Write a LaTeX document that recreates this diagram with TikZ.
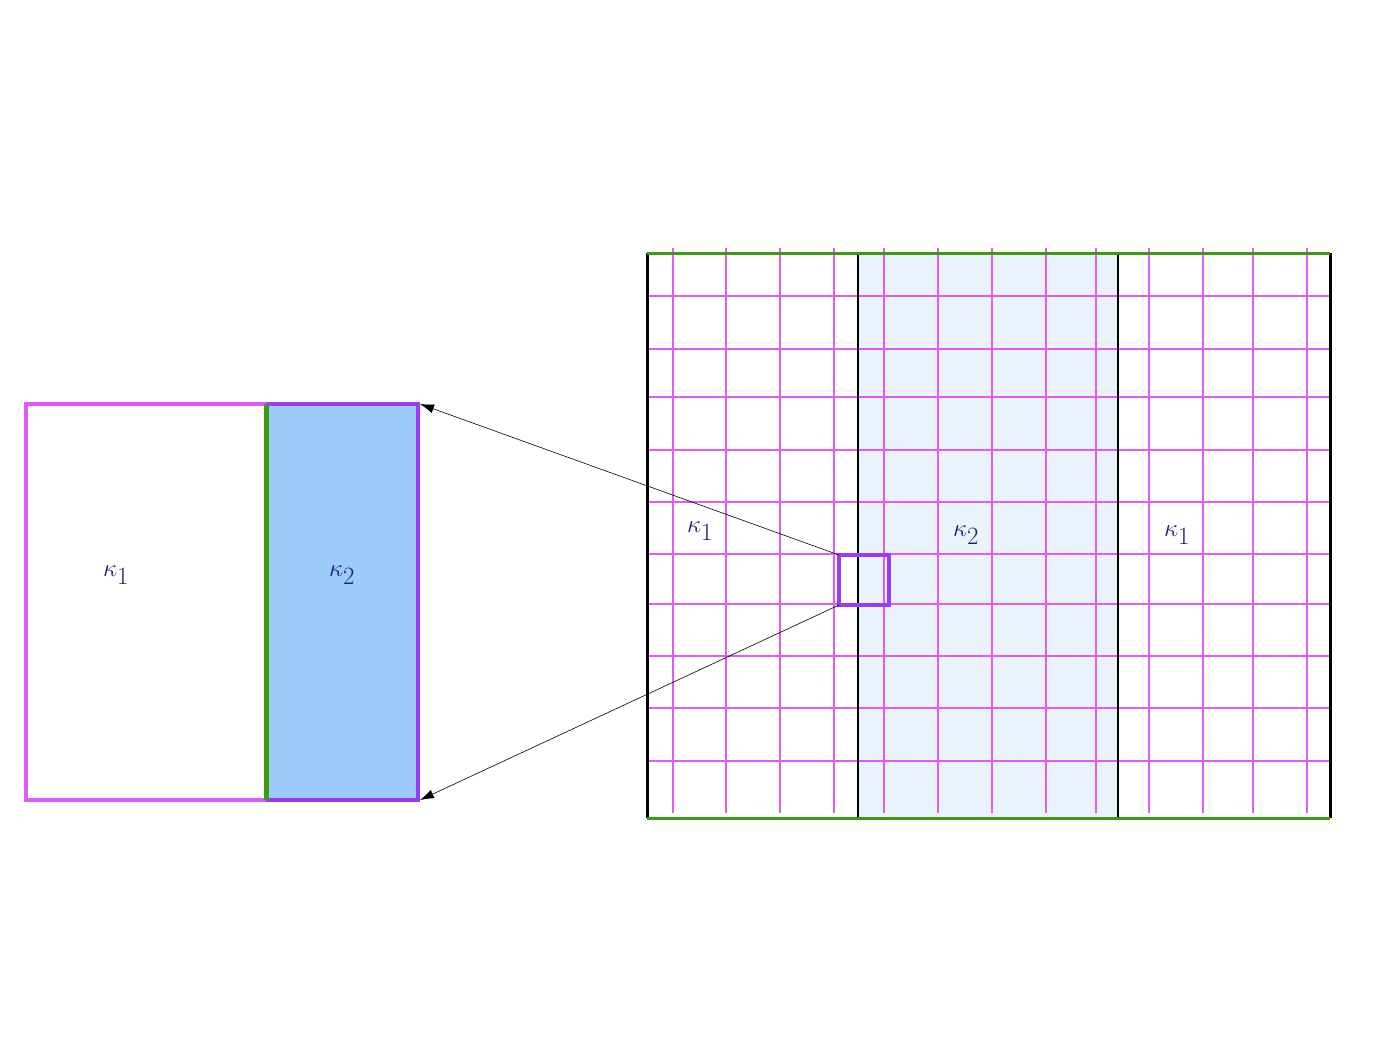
\documentclass[tikz,border=0pt]{standalone}
\usetikzlibrary{arrows.meta}
\definecolor{gridpink}{HTML}{E05AF5}
\definecolor{boxpurple}{HTML}{9B3BF5}
\definecolor{edgegreen}{HTML}{3F9A10}
\definecolor{labelblue}{HTML}{1C1C7A}
\definecolor{fillblue}{HTML}{9CCBFA}
\definecolor{paleblue}{HTML}{EAF3FC}
\begin{document}
\begin{tikzpicture}[x=1pt, y=-1pt,
    grid/.style = {gridpink, line width=1.5pt},
    lab/.style = {text=labelblue, font=\fontsize{42}{50}\selectfont},
    smlab/.style = {text=labelblue, font=\fontsize{34}{40}\selectfont}]
    \useasboundingbox (0,0) rectangle (1400,1050);
    % left panel
    \fill[fillblue] (266,404) rectangle (418,800);
    \draw[gridpink, line width=3.5pt] (266,404) -- (26,404) -- (26,800) -- (266,800);
    \draw[boxpurple, line width=3.5pt] (266,404) -- (418,404) -- (418,800) -- (266,800);
    \draw[edgegreen, line width=5pt] (266,404) -- (266,800);
    \node[lab] (k1) at (116,575) {$\kappa_1$};
    \node[lab] (k2) at (342,575) {$\kappa_2$};
    \coordinate (lt) at (420,404);
    \coordinate (lb) at (420,800);
    % right panel
    \fill[paleblue] (858,253) rectangle (1118,818);
    \foreach \x in {673,726,780,834,884,938,992,1046,1096,1149,1203,1253,1307}
        \draw[grid] (\x,248) -- (\x,813);
    \foreach \y in {296,349,397,450,502,554,604,656,708,761}
        \draw[grid] (647,\y) -- (1330,\y);
    \draw[black, line width=3pt] (647,253) -- (647,818);
    \draw[black, line width=3pt] (1330,253) -- (1330,818);
    \draw[black, line width=1.2pt] (858,253) -- (858,818);
    \draw[black, line width=1.2pt] (1118,253) -- (1118,818);
    \draw[edgegreen, line width=3pt] (647,253) -- (1330,253);
    \draw[edgegreen, line width=3pt] (647,818) -- (1330,818);
    \node[smlab] (r1) at (700,531) {$\kappa_1$};
    \node[smlab] (r2) at (966,535) {$\kappa_2$};
    \node[smlab] (r3) at (1177,535) {$\kappa_1$};
    % zoom box
    \draw[boxpurple, line width=3.5pt] (839,555) rectangle (889,605);
    \coordinate (zt) at (839,555);
    \coordinate (zb) at (839,605);
    \draw[-{Latex[length=14pt,width=9pt]}, line width=0.6pt] (zt) -- (lt);
    \draw[-{Latex[length=14pt,width=9pt]}, line width=0.6pt] (zb) -- (lb);
\end{tikzpicture}
\end{document}
